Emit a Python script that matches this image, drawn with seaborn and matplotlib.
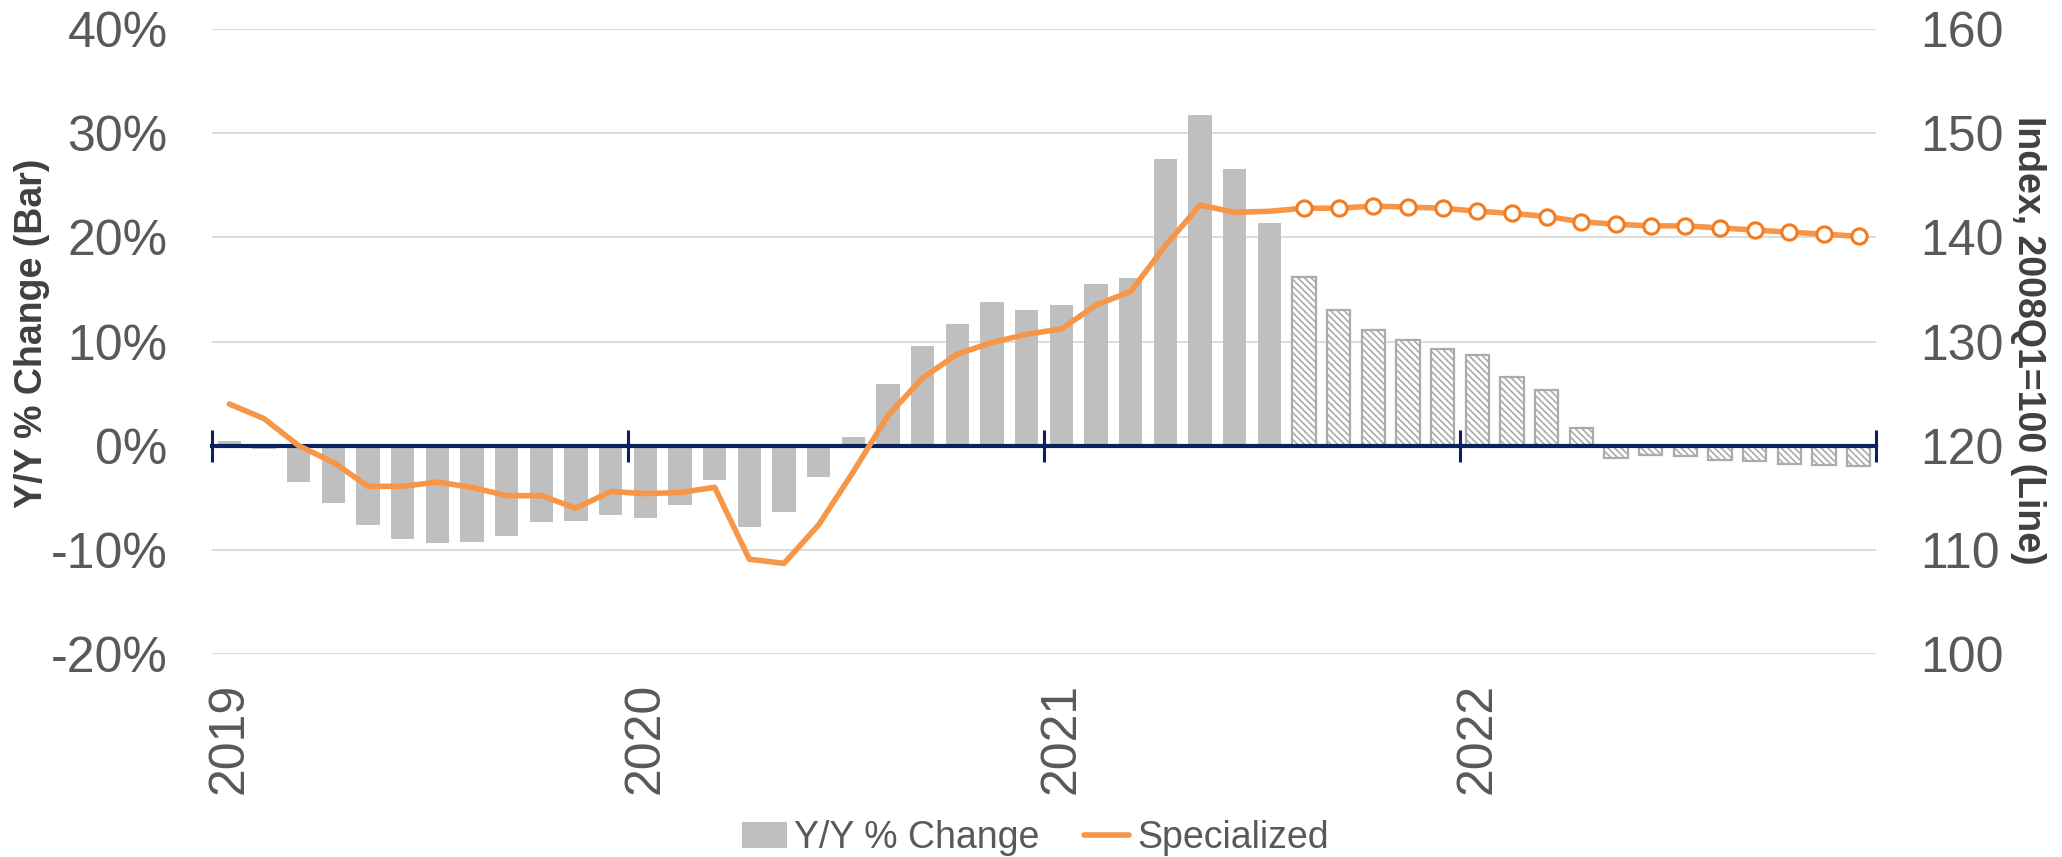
import numpy as np
import pandas as pd
import matplotlib
matplotlib.use("Agg")
import matplotlib.pyplot as plt
import seaborn as sns
from matplotlib.patches import Patch
from matplotlib.lines import Line2D
from matplotlib.ticker import FuncFormatter

# ---------------- data ----------------
months = pd.date_range("2019-01-01", periods=48, freq="MS").strftime("%Y-%m").tolist()
yoy_change = [0.45, -0.3, -3.5, -5.5, -7.6, -9.0, -9.3, -9.2, -8.7, -7.3, -7.2, -6.7,
              -6.9, -5.7, -3.3, -7.8, -6.4, -3.0, 0.8, 5.9, 9.6, 11.7, 13.8, 13.0,
              13.5, 15.5, 16.1, 27.5, 31.7, 26.6, 21.4, 16.2, 13.0, 11.1, 10.1, 9.3,
              8.7, 6.6, 5.3, 1.7, -1.2, -0.9, -1.0, -1.4, -1.5, -1.8, -1.9, -2.0]
specialized_index = [124.0, 122.6, 120.0, 118.4, 116.1, 116.1, 116.5, 116.0, 115.2, 115.2, 114.0, 115.6,
                     115.4, 115.5, 116.0, 109.1, 108.7, 112.4, 117.5, 122.9, 126.5, 128.8, 129.9, 130.7,
                     131.2, 133.5, 134.8, 139.2, 143.1, 142.4, 142.5, 142.8, 142.8, 143.0, 142.9, 142.8,
                     142.5, 142.3, 142.0, 141.5, 141.25, 141.1, 141.1, 140.9, 140.7, 140.5, 140.3, 140.1]
n_actual = 31  # Jan 2019 .. Jul 2021 are actuals, rest forecast
year_labels = ["2019", "2020", "2021", "2022"]
left_ticks = [-20, -10, 0, 10, 20, 30, 40]
right_ticks = [100, 110, 120, 130, 140, 150, 160]

df = pd.DataFrame({"month": months, "yoy": yoy_change, "idx": specialized_index})
df["pos"] = np.arange(len(df))
df["kind"] = np.where(df["pos"] < n_actual, "Actual", "Forecast")

# ---------------- style ----------------
sns.set_theme(style="white")
plt.rcParams["font.family"] = ["Liberation Sans", "DejaVu Sans"]
plt.rcParams["hatch.linewidth"] = 1.2

TXT = "#595959"
TITLE = "#404040"
NAVY = "#0B2161"
ORANGE = "#F79646"
MARK = "#F47B20"
GRAY = "#BFBFBF"
HATCH_GRAY = "#ABABAB"

fig = plt.figure(figsize=(20.62, 8.57), dpi=100)
ax = fig.add_axes([212 / 2062, 1 - 654 / 857, 1664 / 2062, 625 / 857])

sns.barplot(data=df, x="month", y="yoy", hue="kind",
            palette={"Actual": GRAY, "Forecast": "white"},
            dodge=False, width=0.67, saturation=1, legend=False, ax=ax)

# hatched forecast bars
for bar in ax.containers[1]:
    bar.set_hatch("\\" * 5)
    bar.set_edgecolor(HATCH_GRAY)
    bar.set_linewidth(1.6)
for bar in ax.containers[0]:
    bar.set_edgecolor("none")

ax.set_ylim(-20, 40)
ax.set_xlim(-0.5, len(months) - 0.5)
ax.set_yticks(left_ticks)
ax.yaxis.set_major_formatter(FuncFormatter(lambda v, p: f"{v:.0f}%"))
ax.tick_params(axis="y", length=0, pad=32, labelsize=36, labelcolor=TXT)
ax.set_xticks([0, 12, 24, 36])
ax.set_xticklabels(year_labels, rotation=90)
ax.tick_params(axis="x", length=0, pad=21, labelsize=36, labelcolor=TXT)
ax.set_xlabel("")
ax.set_ylabel("")
ax.grid(axis="y", color="#D9D9D9", lw=1.3)
ax.set_axisbelow(True)
for s in ax.spines.values():
    s.set_visible(False)

# zero axis line with year-boundary tick marks
secax = ax.secondary_xaxis(20 / 60)
secax.set_xticks([-0.5, 11.5, 23.5, 35.5, 47.5])
secax.tick_params(axis="x", direction="inout", length=23, width=2.2, color=NAVY,
                  labelbottom=False, labeltop=False)
for name, s in secax.spines.items():
    if name == "bottom":
        s.set_color(NAVY)
        s.set_linewidth(3)
    else:
        s.set_visible(False)
secax.set_zorder(4)

# line on the right axis
ax2 = ax.twinx()
act = df.iloc[: n_actual + 1]
fc = df.iloc[n_actual:]
sns.lineplot(x=act["pos"], y=act["idx"], color=ORANGE, lw=4.0, ax=ax2)
sns.lineplot(x=fc["pos"], y=fc["idx"], color=ORANGE, lw=4.0, marker="o", markersize=11,
             markerfacecolor="white", markeredgecolor=MARK, markeredgewidth=2.2, ax=ax2)
ax2.set_ylim(100, 160)
ax2.set_xlim(-0.5, len(months) - 0.5)
ax2.set_yticks(right_ticks)
ax2.tick_params(axis="y", length=0, pad=32, labelsize=36, labelcolor=TXT)
ax2.set_xlabel("")
ax2.set_ylabel("")
ax2.grid(False)
for s in ax2.spines.values():
    s.set_visible(False)

# axis titles
fig.text(32 / 2062, 1 - 333 / 857, "Y/Y % Change (Bar)", rotation=90, ha="center", va="center",
         fontsize=27, fontweight="bold", color=TITLE)
fig.text(2028 / 2062, 1 - 340 / 857, "Index, 2008Q1=100 (Line)", rotation=270, ha="center",
         va="center", fontsize=27, fontweight="bold", color=TITLE)

# legend
handles = [Patch(facecolor=GRAY, edgecolor="none"), Line2D([], [], color=ORANGE, lw=4)]
fig.legend(handles, ["Y/Y % Change", "Specialized"], loc="center", bbox_to_anchor=(0.502, 0.022),
           ncol=2, frameon=False, fontsize=27, handlelength=1.2, handleheight=0.7,
           handletextpad=0.2, columnspacing=1.2, labelcolor=TXT)

fig.savefig("out.png", dpi=100)
